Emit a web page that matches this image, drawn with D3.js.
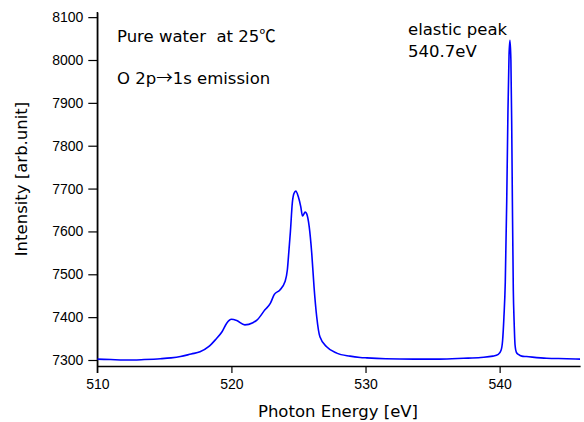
<!doctype html>
<html lang="en">
<head>
  <meta charset="UTF-8">
  <title>O 2p-1s emission</title>
  <script src="https://cdn.jsdelivr.net/npm/d3@7/dist/d3.min.js"></script>
  <style>
    body { margin: 0; background: #fff; }
    svg text { font-family: "DejaVu Sans", sans-serif; fill: #000; }
    .cjk { font-family: "Noto Sans CJK JP", sans-serif; }
  </style>
</head>
<body>
<div id="chart"></div>
<script>
  // spectrum (eV, counts)
  var energy = [510, 511, 512, 512.7, 513.5, 514.7, 515.5, 516.2, 517.0, 517.66, 518.3, 518.8, 519.3, 519.65,
    520.0, 520.4, 521.0, 521.6, 521.9, 522.5, 522.9, 523.2, 523.6, 524.0, 524.17, 524.3, 524.4, 524.54, 524.67,
    524.8, 524.99, 525.17, 525.3, 525.5, 525.6, 525.8, 525.99, 526.16, 526.36, 526.6, 527.1, 527.85, 528.84,
    529.6, 530.1, 531.5, 533.6, 535.5, 537.3, 538.6, 539.5, 539.9, 540.1, 540.22, 540.32, 540.42, 540.53, 540.62,
    540.7, 540.77, 540.84, 540.9, 540.95, 541.02, 541.08, 541.15, 541.25, 541.4, 541.65, 542.0, 543.5, 545, 546];
  var intensity = [7302, 7301, 7300, 7300, 7301, 7303, 7305, 7308, 7314, 7319, 7331, 7347, 7366, 7386,
    7395, 7392, 7382, 7387, 7393, 7417, 7432, 7453, 7463, 7483, 7510, 7560, 7600, 7666, 7689,
    7694, 7681, 7658, 7636, 7645, 7642, 7611, 7549, 7471, 7401, 7354, 7331, 7316, 7309,
    7306, 7305, 7303, 7302, 7302, 7304, 7306, 7309, 7313, 7322, 7345, 7400, 7480, 7673, 7880,
    8010, 8046, 8000, 7850, 7673, 7463, 7390, 7335, 7318, 7313, 7309, 7308, 7304, 7303, 7302];

  var xMajor = [510, 520, 530, 540];
  var yMajor = [7300, 7400, 7500, 7600, 7700, 7800, 7900, 8000, 8100];

  var width = 584, height = 422;
  var mLeft = 97.3, mRight = 580.1, mTop = 12, mBottom = 366;

  var svg = d3.select('#chart').append('svg')
      .attr('width', width)
      .attr('height', height);

  var x = d3.scaleLinear().domain([510, 546]).range([mLeft, mRight]);
  var y = d3.scaleLinear().domain([7286, 8112]).range([mBottom, mTop]);

  // minor ticks first, majors drawn over them
  var xMinor = d3.range(511, 547, 1).filter(function(d) { return d % 10 !== 0; });
  var yMinor = d3.range(7350, 8100, 100);

  var xAxisMinor = d3.axisBottom(x).tickValues(xMinor).tickSize(4).tickFormat('');
  var xAxis = d3.axisBottom(x).tickValues(xMajor).tickSize(7).tickSizeOuter(0).tickPadding(6)
      .tickFormat(d3.format('d'));
  var yAxisMinor = d3.axisLeft(y).tickValues(yMinor).tickSize(4).tickFormat('');
  var yAxis = d3.axisLeft(y).tickValues(yMajor).tickSize(9).tickSizeOuter(0).tickPadding(5)
      .tickFormat(d3.format('d'));

  var gx = svg.append('g').attr('transform', 'translate(0,' + mBottom + ')');
  gx.call(xAxisMinor);
  gx.call(xAxis);
  var gy = svg.append('g').attr('transform', 'translate(' + mLeft + ',0)');
  gy.call(yAxisMinor);
  gy.call(yAxis);

  svg.selectAll('.domain').attr('stroke', '#000').attr('stroke-width', 1.3);
  svg.selectAll('.tick line').attr('stroke', '#000').attr('stroke-width', 1.2);
  svg.selectAll('.tick text').style('font-size', '14px')
      .style('font-family', '"Liberation Sans", Arial, sans-serif');

  // y axis line runs down past the x axis like the original
  svg.append('line')
      .attr('x1', mLeft).attr('x2', mLeft)
      .attr('y1', mTop).attr('y2', mBottom + 7)
      .attr('stroke', '#000').attr('stroke-width', 1.3);

  svg.append('clipPath').attr('id', 'clip')
    .append('rect').attr('x', mLeft).attr('y', mTop).attr('width', mRight - mLeft).attr('height', mBottom - mTop);

  var points = energy.map(function(e, i) { return [e, intensity[i]]; });
  var line = d3.line()
      .x(function(d) { return x(d[0]); })
      .y(function(d) { return y(d[1]); })
      .curve(d3.curveMonotoneX);

  svg.append('path')
      .datum(points)
      .attr('clip-path', 'url(#clip)')
      .attr('fill', 'none')
      .attr('stroke', '#0000ff')
      .attr('stroke-width', 1.6)
      .attr('d', line);

  // labels
  svg.append('text')
      .attr('x', 338).attr('y', 417)
      .attr('text-anchor', 'middle')
      .style('font-size', '16.5px')
      .text('Photon Energy [eV]');

  svg.append('text')
      .attr('transform', 'translate(27,179) rotate(-90)')
      .attr('text-anchor', 'middle')
      .style('font-size', '16.5px')
      .text('Intensity [arb.unit]');

  var t1 = svg.append('text').attr('x', 117).attr('y', 42).style('font-size', '16.5px')
      .attr('xml:space', 'preserve');
  t1.append('tspan').text('Pure water  at 25');
  t1.append('tspan').attr('class', 'cjk').text('℃');

  var t2 = svg.append('text').attr('x', 117).attr('y', 84).style('font-size', '16.5px');
  t2.append('tspan').text('O 2p');
  t2.append('tspan').attr('class', 'cjk').text('→');
  t2.append('tspan').text('1s emission');

  svg.append('text').attr('x', 408).attr('y', 35).style('font-size', '16.5px').text('elastic peak');
  svg.append('text').attr('x', 408).attr('y', 57).style('font-size', '16.5px').text('540.7eV');
</script>
</body>
</html>
